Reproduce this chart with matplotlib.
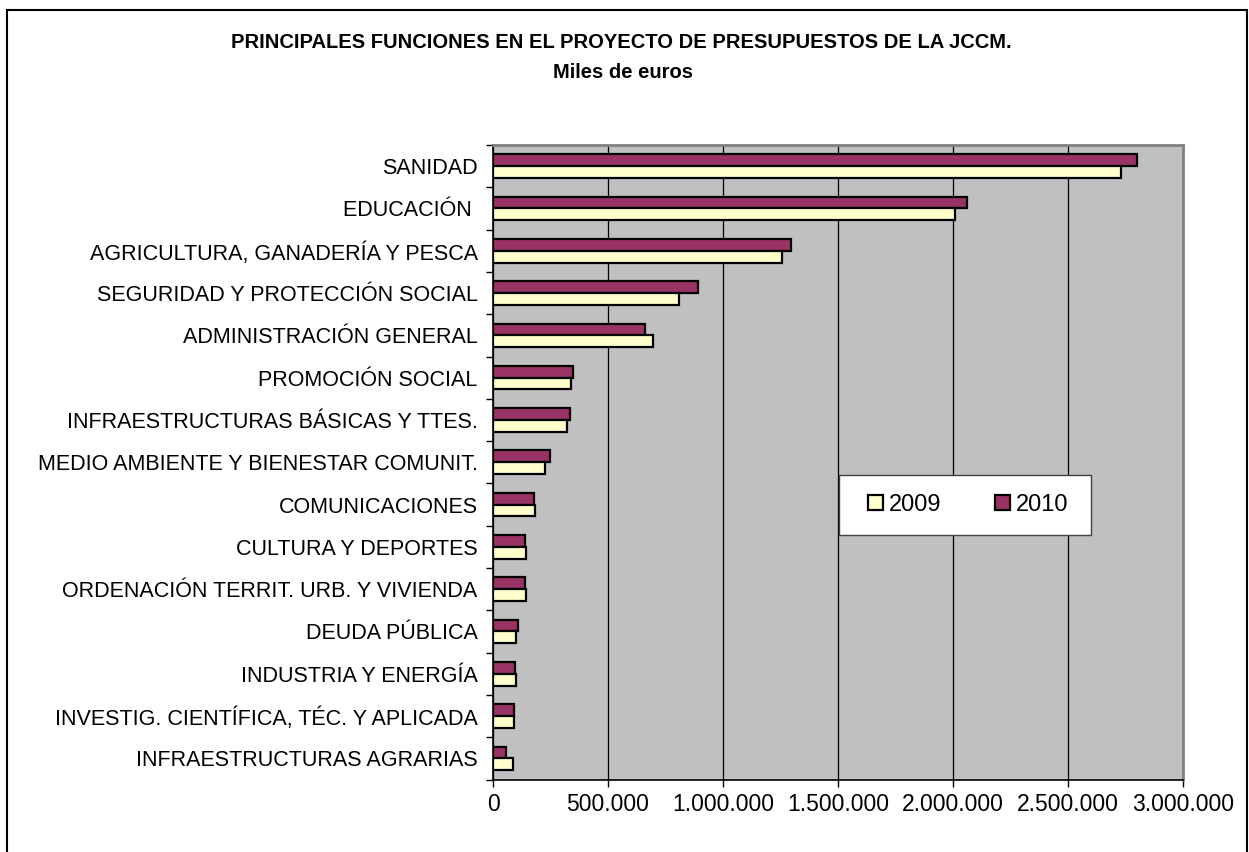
import matplotlib.pyplot as plt
import numpy as np
from matplotlib.patches import Rectangle, Patch
from matplotlib.ticker import FuncFormatter

plt.rcParams['font.family'] = ['Liberation Sans', 'DejaVu Sans']

# Data (miles de euros)
categorias = [
    "SANIDAD",
    "EDUCACIÓN ",
    "AGRICULTURA, GANADERÍA Y PESCA",
    "SEGURIDAD Y PROTECCIÓN SOCIAL",
    "ADMINISTRACIÓN GENERAL",
    "PROMOCIÓN SOCIAL",
    "INFRAESTRUCTURAS BÁSICAS Y TTES.",
    "MEDIO AMBIENTE Y BIENESTAR COMUNIT.",
    "COMUNICACIONES",
    "CULTURA Y DEPORTES",
    "ORDENACIÓN TERRIT. URB. Y VIVIENDA",
    "DEUDA PÚBLICA",
    "INDUSTRIA Y ENERGÍA",
    "INVESTIG. CIENTÍFICA, TÉC. Y APLICADA",
    "INFRAESTRUCTURAS AGRARIAS",
]
valores_2009 = [2730000, 2010000, 1255000, 807000, 697000, 341000, 322000, 228000,
                184000, 142000, 142000, 101000, 101000, 90000, 86000]
valores_2010 = [2801000, 2059000, 1294000, 893000, 661000, 349000, 336000, 249000,
                178000, 138000, 138000, 107000, 97000, 91000, 57000]
x_ticks = [0, 500000, 1000000, 1500000, 2000000, 2500000, 3000000]

COL_2009 = "#FFFFCC"
COL_2010 = "#993366"

W, H = 1249, 852
fig = plt.figure(figsize=(W / 100, H / 100), dpi=100)
fig.patch.set_facecolor("white")

# outer frame of the chart
fig.patches.append(Rectangle((7 / W, -0.05), 1240 / W, (H - 10) / H + 0.05,
                             transform=fig.transFigure, fill=False,
                             edgecolor="black", linewidth=1.5))

ax = fig.add_axes([493 / W, (H - 779.5) / H, 690 / W, 634.5 / H])
ax.set_facecolor("#C0C0C0")

y = np.arange(len(categorias))
h = 0.28
ax.barh(y - h / 2, valores_2010, height=h, color=COL_2010, edgecolor="black",
        linewidth=1.6, zorder=3)
ax.barh(y + h / 2, valores_2009, height=h, color=COL_2009, edgecolor="black",
        linewidth=1.6, zorder=3)

ax.set_xlim(0, 3000000)
ax.set_ylim(len(categorias) - 0.5, -0.5)

ax.set_xticks(x_ticks)
ax.xaxis.set_major_formatter(FuncFormatter(lambda v, p: f"{int(v):,}".replace(",", ".")))
ax.tick_params(axis="x", direction="out", length=5, width=1, labelsize=16.5, pad=5)
ax.grid(axis="x", color="black", linewidth=0.9, zorder=1)

ax.set_yticks(y)
ax.set_yticklabels(categorias, fontsize=15.5)
ax.set_yticks(np.arange(len(categorias) + 1) - 0.5, minor=True)
ax.tick_params(axis="y", which="major", length=0, pad=11)
ax.tick_params(axis="y", which="minor", direction="out", length=5, width=1)

for s in ["top", "right"]:
    ax.spines[s].set_color("#808080")
    ax.spines[s].set_linewidth(2)
for s in ["left", "bottom"]:
    ax.spines[s].set_color("black")
    ax.spines[s].set_linewidth(1.2)
ax.set_axisbelow(True)

# legend box
ax.add_patch(Rectangle((0.5014, 0.3853), 0.3653, 0.0946, transform=ax.transAxes,
                       facecolor="white", edgecolor="#404040", linewidth=1,
                       zorder=4))
handles = [Patch(facecolor=COL_2009, edgecolor="black", linewidth=1.6, label="2009"),
           Patch(facecolor=COL_2010, edgecolor="black", linewidth=1.6, label="2010")]
leg = ax.legend(handles=handles, ncol=2, loc="center left",
                bbox_to_anchor=(0.5435, 0.4326), fontsize=17, frameon=False,
                handlelength=0.62, handleheight=0.62,
                handletextpad=0.25, columnspacing=2.3, borderpad=0,
                borderaxespad=0)
leg.set_zorder(5)

title_font = ["Liberation Sans Narrow", "Liberation Sans", "DejaVu Sans"]
fig.text(621 / W, 1 - 42 / H,
         "PRINCIPALES FUNCIONES EN EL PROYECTO DE PRESUPUESTOS DE LA JCCM.",
         ha="center", va="center", fontsize=14.5, fontweight="bold",
         family=title_font)
fig.text(623 / W, 1 - 72 / H, "Miles de euros",
         ha="center", va="center", fontsize=14.5, fontweight="bold",
         family=title_font)

fig.savefig("out.png", dpi=100)
